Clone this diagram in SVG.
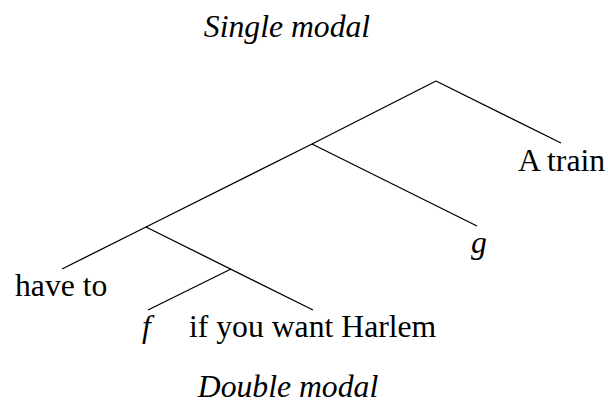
<svg xmlns="http://www.w3.org/2000/svg" width="608" height="411" viewBox="0 0 608 411">
<style>
text{font-family:'Liberation Serif','Times New Roman',serif;font-size:31.7px;fill:#000}
.it{font-style:italic}
.edge{stroke:#000;stroke-width:1.3;fill:none;stroke-linecap:butt}
</style>
<rect width="608" height="411" fill="#fff"/>
<g id="title-top"><text class="it" x="287" y="37" text-anchor="middle">Single modal</text></g>
<g id="connectors">
<line class="edge" x1="436" y1="81" x2="561" y2="143"/>
<line class="edge" x1="436" y1="81" x2="312" y2="144"/>
<line class="edge" x1="312" y1="144" x2="477" y2="226"/>
<line class="edge" x1="312" y1="144" x2="146" y2="227"/>
<line class="edge" x1="146" y1="227" x2="62" y2="269"/>
<line class="edge" x1="146" y1="227" x2="313" y2="310"/>
<line class="edge" x1="231" y1="269" x2="148" y2="310"/>
</g>
<g id="node-a-train"><text x="518" y="171">A train</text></g>
<g id="node-g"><text class="it" x="471" y="253">g</text></g>
<g id="node-have-to"><text x="15" y="296">have to</text></g>
<g id="node-f"><text class="it" x="142" y="337">f</text></g>
<g id="node-if"><text x="189" y="337">if you want Harlem</text></g>
<g id="title-bottom"><text class="it" x="288" y="397" text-anchor="middle">Double modal</text></g>
</svg>
